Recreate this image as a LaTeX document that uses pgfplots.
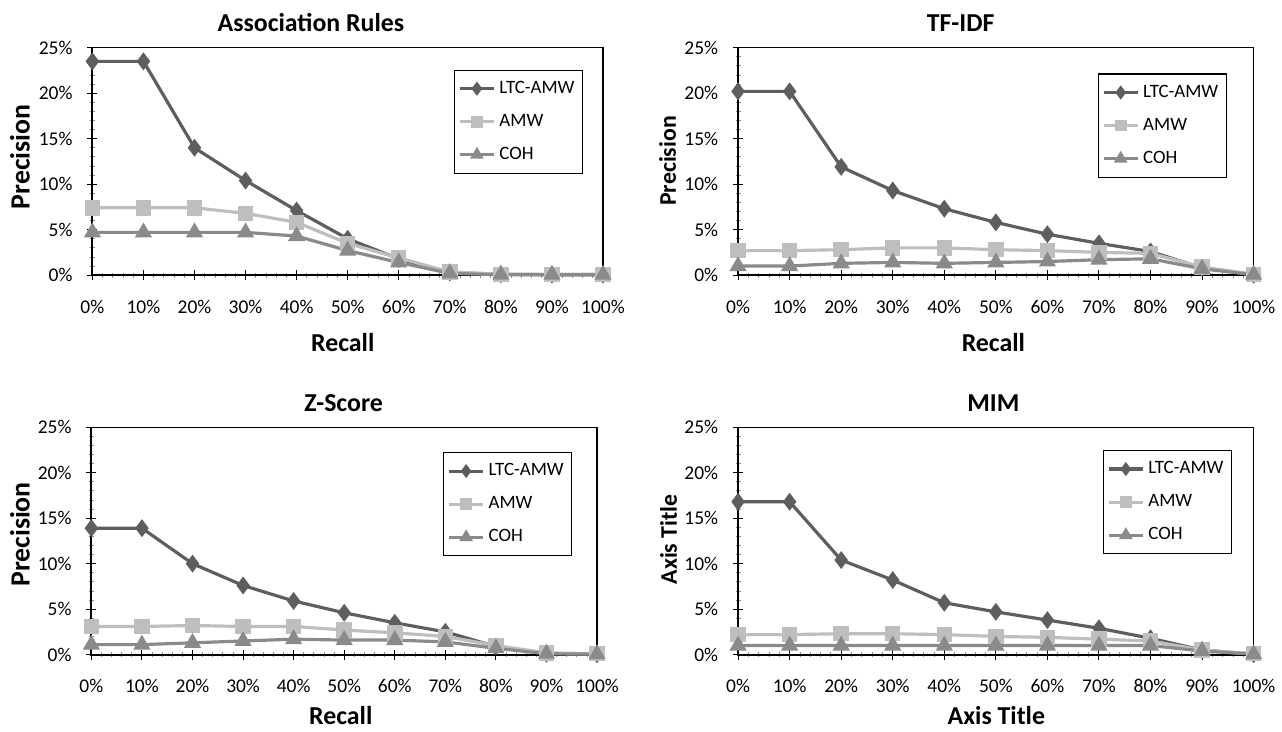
\documentclass[border=0pt]{standalone}
\usepackage{fontspec}
\setmainfont{Carlito}
\usepackage{pgfplots}
\pgfplotsset{compat=1.18}
\definecolor{ltc}{HTML}{5E5E5E}
\definecolor{amw}{HTML}{BEBEBE}
\definecolor{coh}{HTML}{8A8A8A}
\pgfplotsset{
  panel/.style={
    scale only axis, clip=false,
    xmin=0, xmax=100, ymin=0, ymax=25,
    xtick={0,10,...,100}, ytick={0,5,...,25},
    xtick pos=bottom, ytick pos=left,
    minor x tick num=4, minor y tick num=4,
    tick align=center, major tick length=5pt, minor tick length=2.5pt,
    major tick style={black, line width=0.5pt},
    minor tick style={black!45, line width=0.4pt},
    axis line style={black, line width=0.6pt},
    xticklabel={\pgfmathprintnumber{\tick}\%},
    yticklabel={\pgfmathprintnumber{\tick}\%},
    /pgf/number format/assume math mode=true,
    tick label style={font=\fontsize{9.8}{11}\selectfont},
    xticklabel style={yshift=-6.5pt},
    yticklabel style={xshift=-4pt},
    legend cell align=left,
    legend style={anchor=north east, draw=black, line width=0.6pt,
      font=\fontsize{9.5}{11}\selectfont, row sep=5pt, inner xsep=2pt, inner ysep=3.5pt},
    legend image post style={mark options={scale=0.7}},
  },
  sL/.style={color=ltc, line width=1.6pt, mark=diamond*, mark size=3.2pt, mark options={fill=ltc, draw=ltc}},
  sA/.style={color=amw, line width=1.6pt, mark=square*, mark size=3.1pt, mark options={fill=amw, draw=amw}},
  sC/.style={color=coh, line width=1.6pt, mark=triangle*, mark size=3.4pt, mark options={fill=coh, draw=coh}},
}
\newcommand{\frameaxes}{\draw[black, line width=1.1pt] (axis cs:0,25) -- (axis cs:0,0) -- (axis cs:100,0);}
\begin{document}
\begin{tikzpicture}
\fill[white] (0,0) rectangle (641pt,-367pt);

% Association Rules
\begin{axis}[panel, at={(46.5pt,-138.5pt)}, anchor=south west, width=257pt, height=114.5pt,
  legend style={at={(0.961,0.904)}}]
\frameaxes
\addplot[sL] coordinates {(0,23.5) (10,23.5) (20,14.0) (30,10.4) (40,7.1) (50,4.0) (60,1.8) (70,0.3) (80,0.1) (90,0.05) (100,0.05)};
\addlegendentry{LTC-AMW}
\addplot[sA] coordinates {(0,7.4) (10,7.4) (20,7.4) (30,6.8) (40,5.8) (50,3.5) (60,1.9) (70,0.35) (80,0.1) (90,0.1) (100,0.1)};
\addlegendentry{AMW}
\addplot[sC] coordinates {(0,4.7) (10,4.7) (20,4.7) (30,4.7) (40,4.3) (50,2.7) (60,1.4) (70,0.2) (80,0.05) (90,0.05) (100,0.05)};
\addlegendentry{COH}
\end{axis}

% TF-IDF
\begin{axis}[panel, at={(371.5pt,-138.5pt)}, anchor=south west, width=259.5pt, height=114.5pt,
  legend style={at={(0.948,0.887)}}]
\frameaxes
\addplot[sL] coordinates {(0,20.2) (10,20.2) (20,11.9) (30,9.3) (40,7.3) (50,5.8) (60,4.5) (70,3.5) (80,2.6) (90,0.8) (100,0.05)};
\addlegendentry{LTC-AMW}
\addplot[sA] coordinates {(0,2.7) (10,2.7) (20,2.8) (30,3.0) (40,3.0) (50,2.8) (60,2.7) (70,2.5) (80,2.4) (90,0.9) (100,0.1)};
\addlegendentry{AMW}
\addplot[sC] coordinates {(0,1.0) (10,1.0) (20,1.3) (30,1.4) (40,1.3) (50,1.4) (60,1.5) (70,1.7) (80,1.8) (90,0.7) (100,0.05)};
\addlegendentry{COH}
\end{axis}

% Z-Score
\begin{axis}[panel, at={(46pt,-329.5pt)}, anchor=south west, width=254.5pt, height=114.5pt,
  legend style={at={(0.951,0.891)}}]
\frameaxes
\addplot[sL] coordinates {(0,13.9) (10,13.9) (20,10.0) (30,7.6) (40,5.9) (50,4.6) (60,3.5) (70,2.5) (80,0.9) (90,0.1) (100,0.05)};
\addlegendentry{LTC-AMW}
\addplot[sA] coordinates {(0,3.1) (10,3.1) (20,3.2) (30,3.1) (40,3.1) (50,2.7) (60,2.4) (70,2.0) (80,1.0) (90,0.2) (100,0.1)};
\addlegendentry{AMW}
\addplot[sC] coordinates {(0,1.1) (10,1.1) (20,1.3) (30,1.5) (40,1.7) (50,1.6) (60,1.6) (70,1.4) (80,0.7) (90,0.1) (100,0.05)};
\addlegendentry{COH}
\end{axis}

% MIM
\begin{axis}[panel, at={(371.5pt,-329.5pt)}, anchor=south west, width=259.5pt, height=114.5pt,
  legend style={at={(0.958,0.900)}}]
\frameaxes
\addplot[sL] coordinates {(0,16.8) (10,16.8) (20,10.4) (30,8.2) (40,5.7) (50,4.7) (60,3.8) (70,2.9) (80,1.8) (90,0.5) (100,0.05)};
\addlegendentry{LTC-AMW}
\addplot[sA] coordinates {(0,2.2) (10,2.2) (20,2.3) (30,2.3) (40,2.2) (50,2.0) (60,1.9) (70,1.7) (80,1.5) (90,0.5) (100,0.1)};
\addlegendentry{AMW}
\addplot[sC] coordinates {(0,1.0) (10,1.0) (20,1.0) (30,1.0) (40,1.0) (50,1.0) (60,1.0) (70,1.0) (80,1.0) (90,0.4) (100,0.05)};
\addlegendentry{COH}
\end{axis}

% titles and axis labels
\begin{scope}[every node/.style={font=\fontsize{13}{15}\selectfont\bfseries}]
\node at (156.5pt,-11.5pt) {Association Rules};
\node at (483.5pt,-11.5pt) {TF-IDF};
\node at (173pt,-203pt) {Z-Score};
\node at (500pt,-203pt) {MIM};
\node[rotate=90, font=\fontsize{14}{16}\selectfont\bfseries] at (10pt,-79pt) {Precision};
\node[rotate=90, font=\fontsize{12}{14}\selectfont\bfseries] at (336pt,-81pt) {Precision};
\node[rotate=90, font=\fontsize{14}{16}\selectfont\bfseries] at (10pt,-269pt) {Precision};
\node[rotate=90, font=\fontsize{12}{14}\selectfont\bfseries] at (336.5pt,-271.5pt) {Axis Title};
\node at (172.5pt,-172.5pt) {Recall};
\node at (500pt,-172.5pt) {Recall};
\node at (171.5pt,-360pt) {Recall};
\node at (501.5pt,-360pt) {Axis Title};
\end{scope}
\end{tikzpicture}
\end{document}
